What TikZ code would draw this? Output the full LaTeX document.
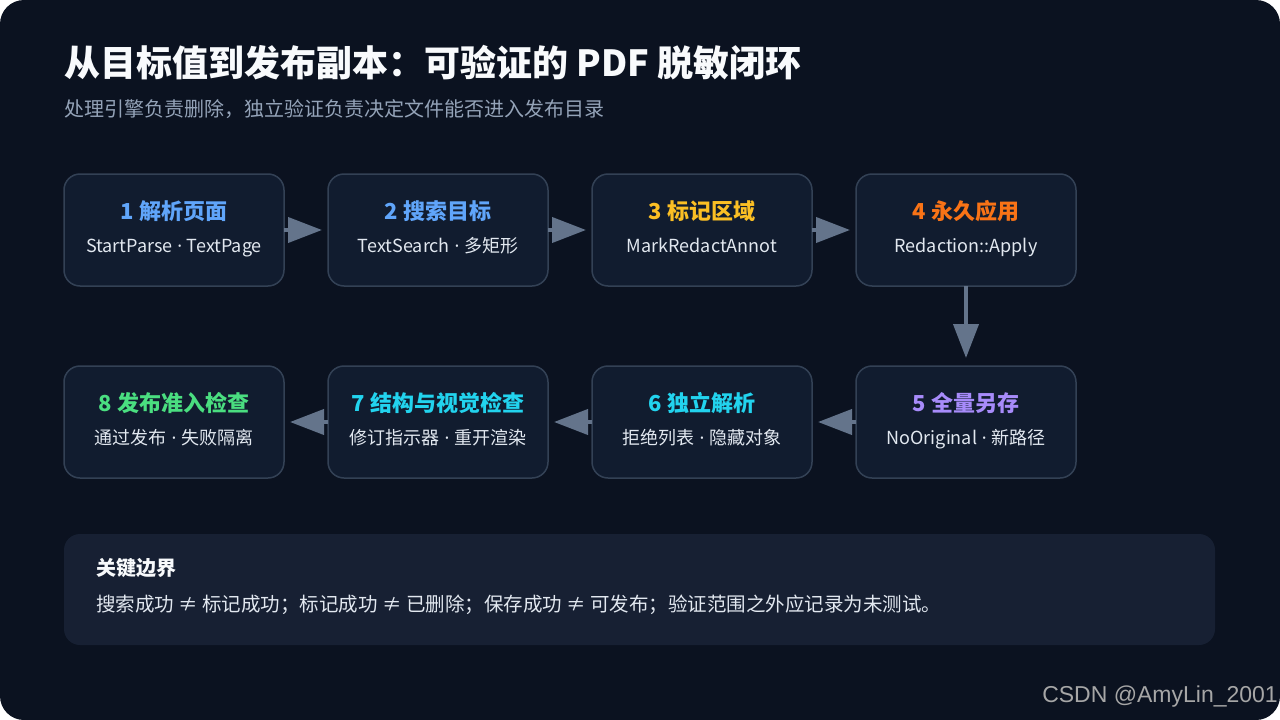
\documentclass[tikz,border=0pt]{standalone}
\usepackage{fontspec}
\setmainfont{Noto Sans CJK SC}
\newfontfamily\wmfont{Liberation Sans}
\newfontfamily\latinfont{Noto Sans}
\newcommand{\mdot}{{\latinfont\ ·\ }}
\usetikzlibrary{arrows.meta}
\definecolor{bg}{HTML}{0B1220}
\definecolor{boxfill}{HTML}{111C2F}
\definecolor{boxline}{HTML}{334155}
\definecolor{arrowc}{HTML}{64748B}
\definecolor{panel}{HTML}{172033}
\definecolor{titlec}{HTML}{F8FAFC}
\definecolor{subtitlec}{HTML}{94A3B8}
\definecolor{subtext}{HTML}{E2E8F0}
\definecolor{cblue}{HTML}{60A5FA}
\definecolor{camber}{HTML}{FBBF24}
\definecolor{corange}{HTML}{F97316}
\definecolor{cpurple}{HTML}{A78BFA}
\definecolor{ccyan}{HTML}{22D3EE}
\definecolor{cgreen}{HTML}{4ADE80}
\definecolor{wmc}{HTML}{A6A6A6}
\begin{document}
\begin{tikzpicture}[x=1pt,y=-1pt,
  stepbox/.style={draw=boxline, line width=1.5pt, fill=boxfill, rounded corners=16pt,
    minimum width=220pt, minimum height=112pt, inner sep=0pt, outer sep=0pt},
  ttl/.style={font=\fontsize{22}{26}\selectfont\bfseries, inner sep=0pt, text height=17pt, text depth=5pt},
  sub/.style={font=\fontsize{18}{22}\selectfont, text=subtext, inner sep=0pt, text height=14pt, text depth=4pt},
  flow/.style={draw=arrowc, line width=4pt, -{Triangle[length=34pt,width=25pt]}},
]
\useasboundingbox (0,0) rectangle (1280,720);
\fill[white] (0,0) rectangle (1280,720);
\fill[bg, rounded corners=24pt] (0,0) rectangle (1280,720);

% title
\node[anchor=west, inner sep=0pt, text=titlec, font=\fontsize{36}{44}\selectfont\bfseries] (title) at (64,63) {从目标值到发布副本：可验证的 PDF 脱敏闭环};
\node[anchor=west, inner sep=0pt, text=subtitlec, font=\fontsize{20}{24}\selectfont] (subtitle) at (64,109) {处理引擎负责删除，独立验证负责决定文件能否进入发布目录};

% boxes row 1
\node[stepbox] (b1) at (174,230) {};
\node[stepbox] (b2) at (438,230) {};
\node[stepbox] (b3) at (702,230) {};
\node[stepbox] (b4) at (966,230) {};
% boxes row 2
\node[stepbox] (b8) at (174,422) {};
\node[stepbox] (b7) at (438,422) {};
\node[stepbox] (b6) at (702,422) {};
\node[stepbox] (b5) at (966,422) {};

% texts
\node[ttl, text=cblue] (t1) at (174,213) {1 解析页面};
\node[sub] (s1) at (174,247) {StartParse\mdot TextPage};
\node[ttl, text=cblue] (t2) at (438,213) {2 搜索目标};
\node[sub] (s2) at (438,247) {TextSearch\mdot 多矩形};
\node[ttl, text=camber] (t3) at (702,213) {3 标记区域};
\node[sub] (s3) at (702,247) {MarkRedactAnnot};
\node[ttl, text=corange] (t4) at (966,213) {4 永久应用};
\node[sub] (s4) at (966,247) {Redaction::Apply};
\node[ttl, text=cpurple] (t5) at (966,405) {5 全量另存};
\node[sub] (s5) at (966,439) {NoOriginal\mdot 新路径};
\node[ttl, text=ccyan] (t6) at (702,405) {6 独立解析};
\node[sub] (s6) at (702,439) {拒绝列表\mdot 隐藏对象};
\node[ttl, text=ccyan] (t7) at (438,405) {7 结构与视觉检查};
\node[sub] (s7) at (438,439) {修订指示器\mdot 重开渲染};
\node[ttl, text=cgreen] (t8) at (174,405) {8 发布准入检查};
\node[sub] (s8) at (174,439) {通过发布\mdot 失败隔离};

% arrows
\draw[flow, shorten >=6pt] (b1.east) -- (b2.west);
\draw[flow, shorten >=6pt] (b2.east) -- (b3.west);
\draw[flow, shorten >=6pt] (b3.east) -- (b4.west);
\draw[flow, shorten >=8pt] (b4.south) -- (b5.north);
\draw[flow, shorten >=6pt] (b5.west) -- (b6.east);
\draw[flow, shorten >=6pt] (b6.west) -- (b7.east);
\draw[flow, shorten >=6pt] (b7.west) -- (b8.east);

% bottom panel
\node[fill=panel, rounded corners=16pt, minimum width=1151pt, minimum height=111pt, inner sep=0pt] (panel) at (639.5,589.5) {};
\node[anchor=west, inner sep=0pt, text=titlec, font=\fontsize{20}{24}\selectfont\bfseries] (ptitle) at (96,568) {关键边界};
\node[anchor=west, inner sep=0pt, text=subtext, font=\fontsize{19.5}{22}\selectfont] (pbody) at (96,605) {搜索成功 ≠ 标记成功；标记成功 ≠ 已删除；保存成功 ≠ 可发布；验证范围之外应记录为未测试。};

% watermark
\node[anchor=east, inner sep=0pt, text=wmc, font=\wmfont\fontsize{23}{26}\selectfont] (wm) at (1278,697) {CSDN @AmyLin\_2001};
\end{tikzpicture}
\end{document}
